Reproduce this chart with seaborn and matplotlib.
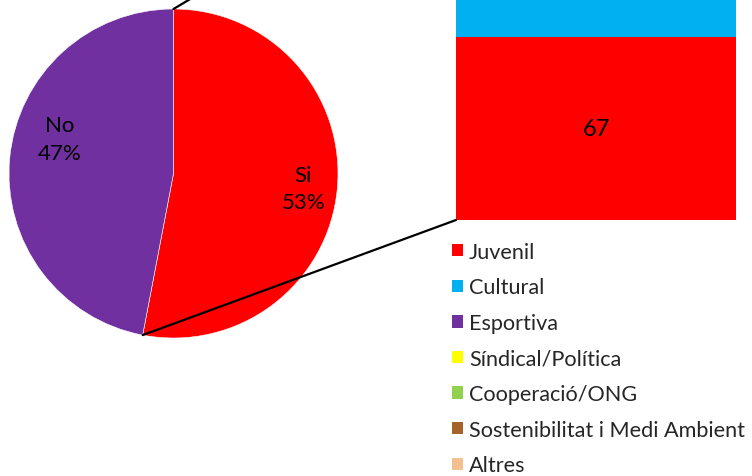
import matplotlib
matplotlib.use("Agg")
import matplotlib.pyplot as plt
from matplotlib.patches import Patch, ConnectionPatch
import seaborn as sns
import numpy as np

# pie: does the person belong to an association?
pie_labels = ['Si', 'No']
pie_values = [53, 47]
pie_colors = ['#FF0000', '#7030A0']

# stacked bar: type of association (only the lower part is visible)
bar_labels = ['Juvenil', 'Cultural']
bar_values = [67, 34]

categories = ['Juvenil', 'Cultural', 'Esportiva', 'Síndical/Política',
              'Cooperació/ONG', 'Sostenibilitat i Medi Ambient', 'Altres']
cat_colors = ['#FF0000', '#00B0F0', '#7030A0', '#FFFF00',
              '#92D050', '#A5632A', '#F4C090']

sns.set_theme(style='white')
plt.rcParams['font.family'] = ['Lato', 'DejaVu Sans']

W, H = 752, 477
fig = plt.figure(figsize=(W / 100, H / 100), dpi=100)

# pie axes
ax_pie = fig.add_axes([9 / W, (H - 339) / H, 329 / W, 329 / H])
wedges, _ = ax_pie.pie(pie_values, colors=pie_colors, startangle=90,
                       counterclock=False, radius=1,
                       wedgeprops=dict(edgecolor='white', linewidth=0.4))
ax_pie.set_xlim(-1, 1)
ax_pie.set_ylim(-1, 1)
ax_pie.set_aspect('equal')
ax_pie.axis('off')
label_pos = [(0.79, -0.09), (-0.69, 0.21)]
for lab, val, (x, y) in zip(pie_labels, pie_values, label_pos):
    ax_pie.text(x, y, f'{lab}\n{val}%', ha='center', va='center',
                fontsize=16, color='black', linespacing=1.45)

# stacked bar axes (cumulative bars drawn from the top down)
ax_bar = fig.add_axes([456 / W, (H - 221) / H, 280 / W, 221 / H])
cum = np.cumsum(bar_values)
bar_colors = [cat_colors[categories.index(b)] for b in bar_labels]
for total, col in zip(cum[::-1], bar_colors[::-1]):
    sns.barplot(x=[0], y=[total], color=col, width=0.8, ax=ax_bar,
                saturation=1, linewidth=0)
ax_bar.set_xlim(-0.4, 0.4)
ax_bar.set_ylim(0, 221 / 2.73)
ax_bar.axis('off')
bottoms = cum - np.array(bar_values)
for b, v in zip(bottoms, bar_values):
    ax_bar.text(0, b + v / 2, str(v), ha='center', va='center',
                fontsize=17, color='black', clip_on=False)

# connector lines from the "Si" wedge to the bar
ang_end = np.deg2rad(90 - 360 * pie_values[0] / sum(pie_values))
bar_top = 139
for xyA, xyB in [((np.cos(ang_end), np.sin(ang_end)), (-0.4, 0)),
                 ((0, 1), (-0.4, bar_top))]:
    con = ConnectionPatch(xyA=xyA, coordsA=ax_pie.transData,
                          xyB=xyB, coordsB=ax_bar.transData,
                          color='black', linewidth=1.6)
    fig.add_artist(con)

# legend
handles = [Patch(facecolor=c, edgecolor='none') for c in cat_colors]
fig.legend(handles, categories, loc='upper left',
           bbox_to_anchor=(441 / W, 1 - 232 / H), frameon=False,
           fontsize=15.6, handlelength=0.5, handleheight=0.5,
           handletextpad=0.3, labelspacing=0.72, borderpad=0)

fig.savefig('out.png', dpi=100)
